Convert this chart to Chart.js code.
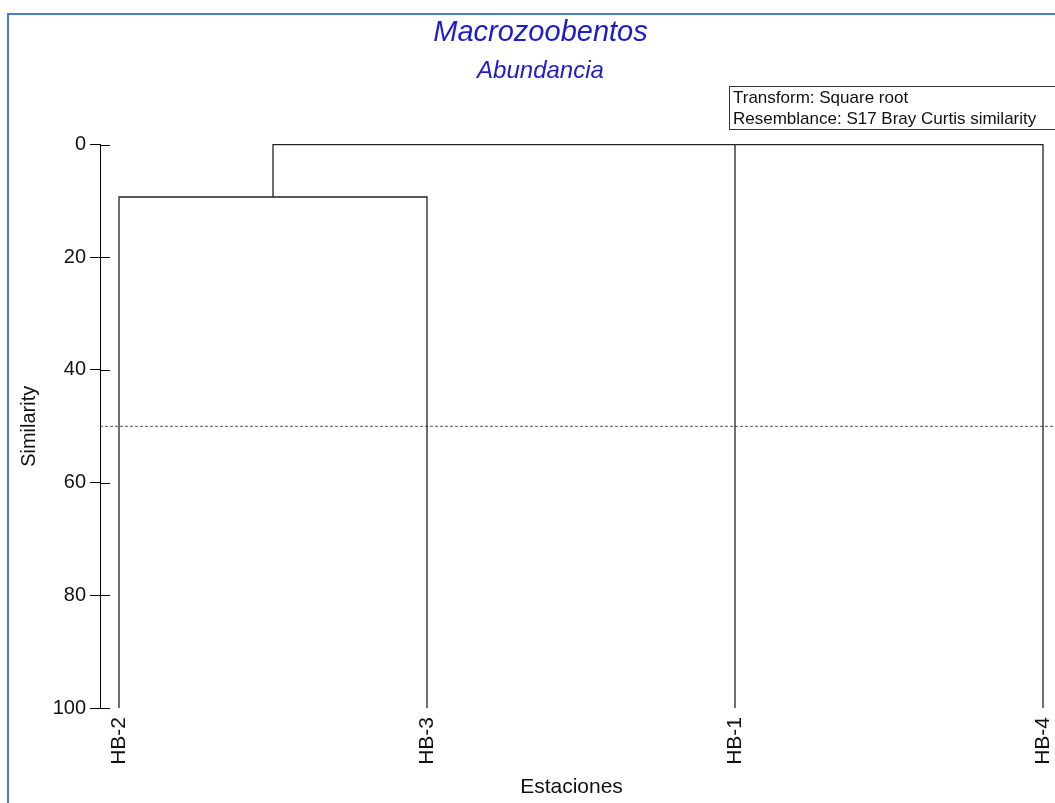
<!DOCTYPE html>
<html>
<head>
<meta charset="utf-8">
<title>Macrozoobentos - Abundancia</title>
<script src="https://cdn.jsdelivr.net/npm/chart.js@4.4.1/dist/chart.umd.min.js"></script>
<style>
	body { margin: 0; background: #fff; }
	#marco {
		position: absolute; left: 7px; top: 13px; width: 1060px; height: 800px;
		border-top: 2px solid #4a7ad6; border-left: 2px solid #4a7ad6;
	}
	#dendro { position: absolute; left: 0; top: 0; }
</style>
</head>
<body>
<div id="marco"></div>
<canvas id="dendro" width="1055" height="803"></canvas>
<script>
// estaciones en el orden del dendrograma
const estaciones = ['HB-2', 'HB-3', 'HB-1', 'HB-4'];
// niveles de similitud (%) de cada union
const simHB2HB3 = 9.3;   // HB-2 con HB-3
const simTodos = 0;      // grupo (HB-2,HB-3) con HB-1 y HB-4
const corte = 50;        // linea de corte
const ticksY = [0, 20, 40, 60, 80, 100];
const notas = ['Transform: Square root', 'Resemblance: S17 Bray Curtis similarity'];

const xMin = -0.0617;
const xMax = estaciones.length - 1;

function pos(nombre){
	return estaciones.indexOf(nombre);
}

let medio23 = (pos('HB-2') + pos('HB-3')) / 2;

let ramas = [
	[{x: pos('HB-2'), y: 100}, {x: pos('HB-2'), y: simHB2HB3}, {x: pos('HB-3'), y: simHB2HB3}, {x: pos('HB-3'), y: 100}],
	[{x: medio23, y: simHB2HB3}, {x: medio23, y: simTodos}, {x: pos('HB-4'), y: simTodos}, {x: pos('HB-4'), y: 100}],
	[{x: pos('HB-1'), y: 100}, {x: pos('HB-1'), y: simTodos}]
];

let datasets = ramas.map(function(r){
	return {
		data: r,
		showLine: true,
		borderColor: '#222',
		borderWidth: 1.3,
		pointRadius: 0,
		fill: false,
		clip: false
	};
});

datasets.push({
	data: [{x: xMin, y: corte}, {x: xMax + 0.04, y: corte}],
	showLine: true,
	borderColor: '#555',
	borderWidth: 1,
	borderDash: [3, 2],
	pointRadius: 0,
	clip: false
});

// marcas del eje y que cruzan hacia dentro + recuadro de notas
const extras = {
	id: 'extras',
	afterDraw: function(chart){
		let ctx = chart.ctx;
		let y = chart.scales.y;
		let left = chart.chartArea.left;
		ctx.save();
		ctx.strokeStyle = '#000';
		ctx.lineWidth = 1;
		ticksY.forEach(function(v){
			let py = Math.round(y.getPixelForValue(v)) + 0.5;
			ctx.beginPath();
			ctx.moveTo(left, py);
			ctx.lineTo(left + 10, py);
			ctx.stroke();
		});
		ctx.strokeStyle = '#333';
		ctx.strokeRect(729.5, 86.5, 340, 43);
		ctx.fillStyle = '#111';
		ctx.font = '17px "Liberation Sans", Arial, sans-serif';
		ctx.textBaseline = 'middle';
		ctx.fillText(notas[0], 733, 98);
		ctx.fillText(notas[1], 733, 119);
		ctx.restore();
	}
};

new Chart(document.getElementById('dendro'), {
	type: 'scatter',
	data: { datasets: datasets },
	plugins: [extras],
	options: {
		responsive: false,
		animation: false,
		layout: { padding: { left: 26, right: 0, top: 0, bottom: 0 } },
		plugins: {
			legend: { display: false },
			tooltip: { enabled: false },
			title: {
				display: true,
				text: 'Macrozoobentos',
				color: '#1c1cc8',
				font: { family: '"Liberation Sans", Arial, sans-serif', size: 29, style: 'italic', weight: 'normal' },
				padding: { top: 16, bottom: 6 }
			},
			subtitle: {
				display: true,
				text: 'Abundancia',
				color: '#1c1cc8',
				font: { family: '"Liberation Sans", Arial, sans-serif', size: 24, style: 'italic', weight: 'normal' },
				padding: { top: 0, bottom: 59 }
			}
		},
		scales: {
			x: {
				type: 'linear',
				min: xMin,
				max: xMax,
				afterBuildTicks: function(scale){
					scale.ticks = estaciones.map(function(e, i){ return {value: i}; });
				},
				afterFit: function(scale){
					scale.height = 95;
					scale.paddingLeft = 0;
					scale.paddingRight = 12;
				},
				grid: { display: false, drawTicks: false },
				border: { display: false },
				ticks: {
					autoSkip: false,
					minRotation: 90,
					maxRotation: 90,
					padding: 9,
					color: '#111',
					font: { family: '"Liberation Sans", Arial, sans-serif', size: 21 },
					callback: function(v){ return estaciones[v]; }
				},
				title: {
					display: true,
					text: 'Estaciones',
					color: '#111',
					font: { family: '"Liberation Sans", Arial, sans-serif', size: 21 },
					padding: { top: 0, bottom: 3 }
				}
			},
			y: {
				reverse: true,
				min: 0,
				max: 100,
				afterBuildTicks: function(scale){
					scale.ticks = ticksY.map(function(v){ return {value: v}; });
				},
				afterFit: function(scale){
					scale.width = 74;
				},
				grid: { drawOnChartArea: false, drawTicks: true, tickLength: 10, tickColor: '#000' },
				border: { display: true, color: '#000', width: 1 },
				ticks: {
					padding: 4,
					color: '#111',
					font: { family: '"Liberation Sans", Arial, sans-serif', size: 20 }
				},
				title: {
					display: true,
					text: 'Similarity',
					color: '#111',
					font: { family: '"Liberation Sans", Arial, sans-serif', size: 20 },
					padding: { top: -9, bottom: 0 }
				}
			}
		}
	}
});
</script>
</body>
</html>
